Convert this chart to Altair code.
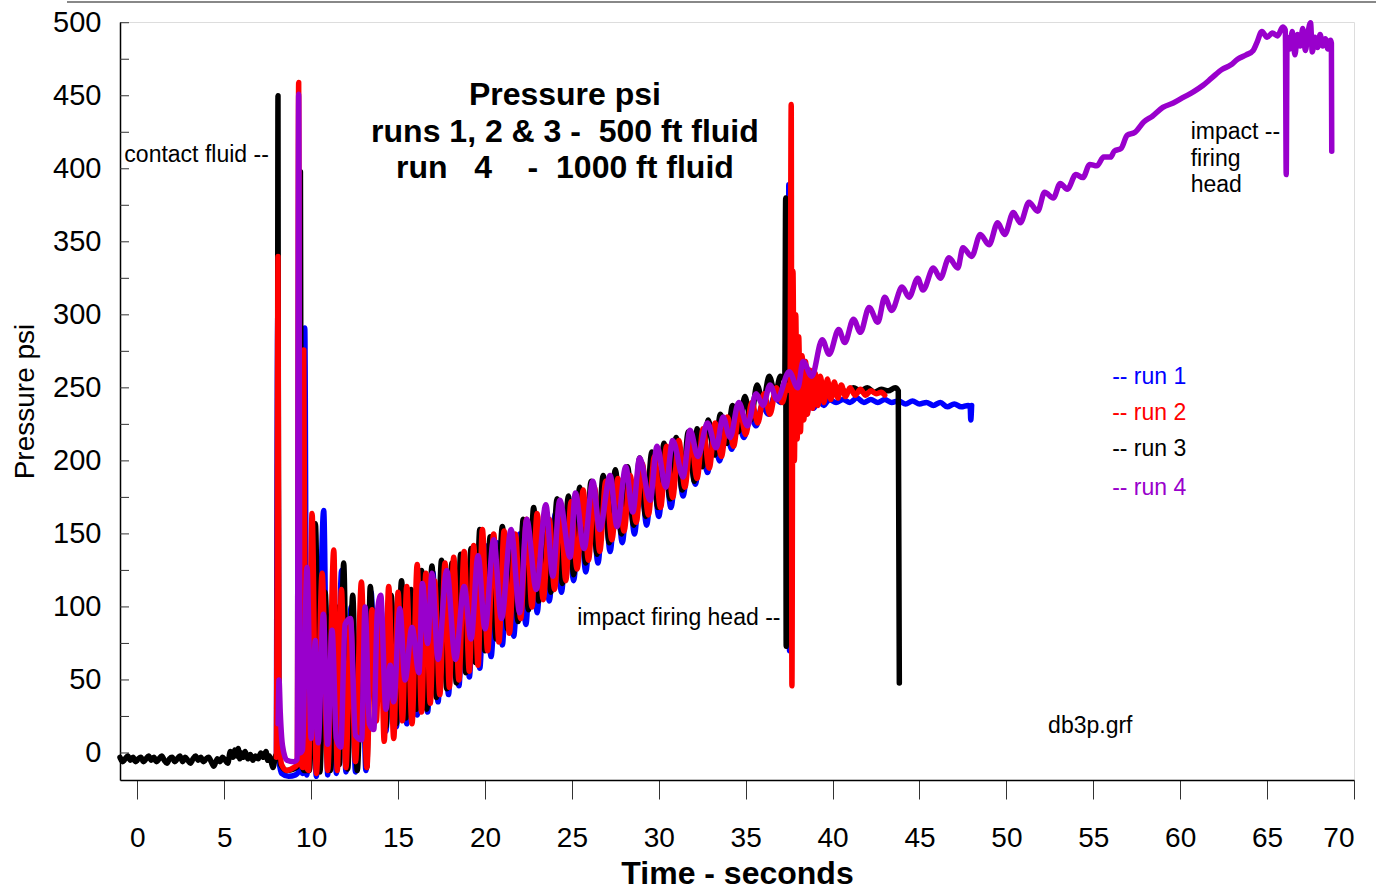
import altair as alt
import pandas as pd

# ---------------- data ----------------
# run 1 (blue)
run1_t = [8.0, 8.08, 8.15, 8.3, 8.7, 9.1, 9.3, 9.4, 9.5, 9.63, 9.75, 10.0, 10.3, 10.72, 10.95, 11.2, 11.45, 11.75,
          12.0, 12.3, 12.55, 12.9, 13.15, 13.45, 13.7, 14.0, 14.3, 14.6, 14.9, 15.2, 15.5, 15.8, 16.1, 16.4, 16.7,
          17.0, 17.3, 17.6, 17.9, 18.2, 18.5, 18.8, 19.1, 19.4, 19.7, 20.0, 20.35, 20.7, 21.0, 21.3, 21.65, 22.0,
          22.35, 22.7, 23.0, 23.35, 23.7, 24.05, 24.4, 24.75, 25.1, 25.45, 25.8, 26.15, 26.5, 26.85, 27.2, 27.55,
          27.9, 28.25, 28.6, 28.95, 29.3, 29.65, 30.0, 30.35, 30.7, 31.05, 31.4, 31.75, 32.1, 32.45, 32.8, 33.15,
          33.5, 33.85, 34.2, 34.55, 34.9, 35.25, 35.6, 35.95, 36.3, 36.65, 37.0, 37.3, 37.45, 37.48, 37.52, 37.56,
          37.65, 37.75, 37.85, 38.0, 38.15, 38.3, 38.5, 38.7, 38.9, 39.2, 39.5, 39.8, 40.2, 40.6, 41.0, 41.4, 41.8,
          42.2, 42.6, 43.0, 43.4, 43.8, 44.2, 44.6, 45.0, 45.4, 45.8, 46.2, 46.6, 47.0, 47.4, 47.8, 47.92, 47.95, 48.0]
run1_p = [-5, 300, -5, -14, -16, -15, -12, 200, -14, 291, -15, 100, -16, 166, -15, 95, -14, 125,
          -13, 100, -13, 105, -12, 110, 28, 96, 15, 104, 18, 112, 20, 108, 26, 120, 28,
          124, 35, 126, 40, 128, 46, 132, 52, 136, 58, 142, 66, 144, 74, 146, 80, 150,
          88, 156, 96, 158, 104, 164, 110, 168, 118, 172, 124, 176, 130, 180, 138, 184,
          144, 188, 150, 192, 156, 196, 162, 200, 168, 204, 176, 208, 184, 212, 192, 218,
          200, 222, 208, 228, 216, 232, 224, 238, 232, 244, 240, 248, 246, 389, 70, 240,
          210, 255, 222, 250, 228, 238, 232, 240, 236, 241, 238, 242, 240, 242, 240, 243, 240,
          242, 240, 242, 240, 241, 239, 241, 239, 240, 238, 240, 237, 239, 237, 238, 236, 228, 238]

# run 2 (red)
run2_t = [8.0, 8.05, 8.09, 8.15, 8.3, 8.6, 9.0, 9.2, 9.28, 9.38, 9.5, 9.57, 9.68, 9.85, 10.05, 10.3, 10.63, 10.95,
          11.3, 11.5, 11.74, 12.0, 12.26, 12.55, 12.89, 13.2, 13.5, 13.75, 13.98, 14.2, 14.46, 14.75, 15.0, 15.25,
          15.5, 15.8, 16.1, 16.35, 16.6, 16.85, 17.1, 17.4, 17.7, 17.95, 18.2, 18.5, 18.8, 19.1, 19.35, 19.6, 19.85,
          20.15, 20.5, 20.8, 21.1, 21.4, 21.75, 22.05, 22.4, 22.7, 23.0, 23.35, 23.7, 24.0, 24.35, 24.65, 24.95,
          25.3, 25.65, 25.95, 26.3, 26.6, 26.95, 27.3, 27.65, 28.0, 28.35, 28.7, 29.05, 29.4, 29.75, 30.1, 30.45,
          30.8, 31.15, 31.5, 31.85, 32.2, 32.55, 32.9, 33.25, 33.6, 33.95, 34.3, 34.65, 35.0, 35.35, 35.7, 36.05,
          36.4, 36.75, 37.1, 37.4, 37.55, 37.62, 37.66, 37.72, 37.8, 37.88, 37.96, 38.05, 38.15, 38.25, 38.35,
          38.45, 38.55, 38.7, 38.85, 39.0, 39.15, 39.3, 39.5, 39.7, 39.9, 40.1, 40.3, 40.5, 40.75, 41.0, 41.3,
          41.6, 41.9, 42.2, 42.5, 42.8, 43.0]
run2_p = [-3, 130, 340, 20, -8, -12, -10, -8, 459, -5, -10, 276, -8, -12, 164, -14, 123, -12,
          139, -12, 112, -10, 91, -6, 117, -10, 98, 22, 107, 8, 114, 10, 110, 22,
          114, 20, 129, 28, 123, 34, 118, 40, 130, 45, 134, 50, 138, 56, 142, 60, 153,
          70, 150, 76, 152, 82, 150, 92, 160, 100, 164, 105, 160, 112, 171, 118, 172,
          126, 180, 132, 182, 138, 186, 146, 188, 152, 190, 158, 198, 163, 203, 168, 210,
          175, 214, 182, 216, 188, 222, 195, 226, 203, 230, 210, 236, 218, 240, 226, 246,
          232, 250, 240, 252, 248, 444, 46, 330, 200, 300, 215, 285, 220, 272, 228,
          268, 232, 262, 236, 260, 238, 258, 240, 256, 242, 254, 243, 252, 244, 250, 245,
          249, 245, 248, 246, 247, 245]

# run 3 (black)
run3_t = [-1.0, -0.85, -0.7, -0.55, -0.4, -0.25, -0.1, 0.05, 0.2, 0.35, 0.5, 0.65, 0.8, 0.95, 1.1, 1.25, 1.4,
          1.55, 1.7, 1.85, 2.0, 2.15, 2.3, 2.45, 2.6, 2.75, 2.9, 3.05, 3.2, 3.35, 3.5, 3.65, 3.8, 3.95, 4.1, 4.25,
          4.4, 4.6, 4.75, 4.9, 5.05, 5.2, 5.35, 5.5, 5.6, 5.7, 5.8, 5.9, 6.0, 6.1, 6.2, 6.35, 6.5, 6.65, 6.8, 6.95,
          7.1, 7.25, 7.4, 7.5, 7.6, 7.7, 7.8, 7.95, 8.05, 8.09, 8.13, 8.25, 8.6, 9.0,
          9.3, 9.38, 9.45, 9.6, 9.9, 10.24, 10.5, 10.8, 11.1, 11.45, 11.62, 11.87, 12.1, 12.39, 12.65, 12.95, 13.2,
          13.4, 13.7, 14.0, 14.3, 14.6, 14.9, 15.2, 15.45, 15.75, 16.05, 16.35, 16.65, 16.95, 17.2, 17.5, 17.8,
          18.1, 18.35, 18.6, 18.9, 19.2, 19.45, 19.7, 20.0, 20.3, 20.65, 21.0, 21.3, 21.6, 21.9, 22.2, 22.5, 22.8,
          23.1, 23.45, 23.8, 24.15, 24.45, 24.8, 25.1, 25.45, 25.8, 26.1, 26.45, 26.8, 27.15, 27.5, 27.85, 28.2,
          28.55, 28.9, 29.25, 29.6, 29.95, 30.3, 30.65, 31.0, 31.35, 31.7, 32.05, 32.2, 32.5, 32.85, 33.2, 33.55,
          33.9, 34.25, 34.6, 34.95, 35.3, 35.65, 36.0, 36.35, 36.7, 37.0, 37.25, 37.3, 37.33, 37.38, 37.5, 37.6,
          37.7, 37.85, 37.95, 38.0, 38.1, 38.2, 38.35, 38.5, 38.7, 38.9, 39.1, 39.4, 39.7, 40.0, 40.4, 40.8, 41.2,
          41.6, 42.0, 42.4, 42.8, 43.2, 43.6, 43.78, 43.84]
run3_p = [-3, -6, -4, -2, -5, -3, -6, -4, -3, -6, -4, -2, -5, -3, -6, -4, -2, -5, -7, -4, -3, -6, -4, -2, -6,
          -3, -5, -7, -4, -2, -5, -3, -6, -4, -3, -6, -9, -4, -6, -3, -5, -7, 1, -3, 2, -2, 3, -4, 0, -3, 1, -4,
          -1, -5, -2, -4, 0, -3, 1, -5, -2, -6, -10, -2, 0, 450, 10, -8, -12, -11,
          -8, 398, -5, -12, -12, 157, -13, 110, -12, 100, -8, 130, -11, 108, -12, 95, -10,
          114, 30, 100, 18, 108, 20, 118, 24, 112, 30, 125, 30, 128, 38, 132, 44,
          130, 48, 136, 55, 140, 62, 153, 70, 148, 78, 155, 85, 150, 90, 160, 98, 168,
          104, 165, 110, 174, 116, 176, 122, 182, 130, 186, 136, 190, 144, 194, 150, 196,
          156, 202, 162, 206, 168, 212, 174, 216, 180, 220, 186, 222, 196, 228, 204, 232,
          212, 238, 220, 244, 228, 252, 240, 258, 246, 258, 256, 380, 73, 250, 240, 262,
          235, 270, 283, 230, 258, 240, 256, 243, 253, 245, 252, 246, 251, 247, 250, 247, 250,
          248, 250, 247, 249, 248, 250, 248, 48]

# run 4 (purple)
run4_t = [8.1, 8.15, 8.22, 8.35, 8.6, 9.0, 9.2, 9.28, 9.36, 9.5, 9.76, 10.0, 10.24, 10.4, 10.7, 10.95, 11.2, 11.45,
          11.7, 11.95, 12.26, 12.55, 12.9, 13.1, 13.35, 13.6, 13.8, 14.0, 14.3, 14.55, 14.75, 15.1, 15.4, 15.8,
          16.2, 16.4, 16.7, 16.95, 17.3, 17.8, 18.3, 18.8, 19.2, 19.6, 20.0, 20.5, 20.95, 21.5, 22.0, 22.4, 22.95,
          23.5, 23.9, 24.3, 24.9, 25.2, 25.7, 26.2, 26.6, 27.2, 27.6, 28.1, 28.5, 28.9, 29.5, 29.9, 30.4, 30.8,
          31.4, 31.8, 32.25, 32.8, 33.3, 33.7, 34.1, 34.6, 35.1, 35.6, 36.0, 36.4, 36.8, 37.5, 38.0, 38.3, 38.8,
          39.4, 39.8, 40.35, 40.7, 41.2, 41.6, 42.1, 42.6, 43.0, 43.4, 44.0, 44.4, 44.9, 45.2, 45.8, 46.2, 46.7,
          47.2, 47.5, 48.0, 48.5, 49.0, 49.5, 49.9, 50.4, 50.8, 51.3, 51.8, 52.2, 52.7, 53.1, 53.5, 54.0, 54.4,
          54.8, 55.2, 55.6, 56.0, 56.2, 56.6, 56.95, 57.4, 57.9, 58.4, 59.0, 59.6, 60.2, 60.8, 61.3, 61.8, 62.4,
          62.9, 63.3, 63.8, 64.2, 64.4, 64.7, 65.0, 65.3, 65.6, 65.9, 66.05, 66.1, 66.15, 66.3, 66.45, 66.6,
          66.75, 66.9, 67.05, 67.2, 67.35, 67.5, 67.6, 67.75, 67.9, 68.05, 68.2, 68.35, 68.5, 68.65, 68.7, 68.72]
run4_p = [20, 50, 28, 5, -5, -6, -4, 451, 0, 2, 127, 10, 77, 7, 95, 6, 84, 10,
          4, 88, 92, 12, 9, 100, 20, 16, 95, 108, 30, 60, 35, 99, 50, 86,
          55, 116, 75, 123, 64, 125, 64, 114, 78, 135, 85, 146, 92, 153, 96, 160, 112,
          170, 121, 173, 134, 178, 140, 186, 153, 190, 155, 196, 165, 202, 173, 210, 182, 214,
          189, 221, 203, 226, 209, 230, 216, 240, 224, 246, 238, 252, 242, 261, 250, 268, 258,
          283, 273, 290, 281, 297, 288, 305, 295, 312, 303, 319, 312, 325, 317, 332, 325, 339,
          332, 346, 340, 355, 348, 363, 355, 370, 363, 377, 371, 384, 380, 390, 386, 396, 394,
          403, 402, 408, 408, 412, 414, 423, 425, 432, 436, 442, 445, 449, 453, 457, 462, 468,
          471, 475, 478, 481, 486, 494, 490, 493, 491, 497, 495, 396, 490, 482, 494, 478,
          492, 484, 496, 481, 493, 500, 480, 490, 483, 492, 484, 489, 482, 488, 486, 412]

y_tick_labels = [0, 50, 100, 150, 200, 250, 300, 350, 400, 450, 500]
y_minor_ticks = list(range(0, 501, 25))
x_tick_labels = list(range(0, 71, 5))

# annotations (text, time, pressure)
title_lines = ["Pressure psi",
               "runs 1, 2 & 3 -\u00a0\u00a0500 ft fluid",
               "run\u00a0\u00a0\u00a04\u00a0\u00a0\u00a0\u00a0-\u00a0\u00a01000 ft fluid"]
title_t = [24.6, 24.6, 24.6]
title_p = [450.5, 425.3, 400.5]

note_left_text = ["contact fluid --", "impact --", "firing", "head", "db3p.grf"]
note_left_t = [-0.75, 60.6, 60.6, 60.6, 52.4]
note_left_p = [409.6, 425.0, 406.8, 389.0, 18.5]

note_right_text = ["impact firing head --"]
note_right_t = [37.0]
note_right_p = [92.5]

legend_text = ["-- run 1", "-- run 2", "-- run 3", "-- run 4"]
legend_colors = ["#0000ff", "#ff0000", "#000000", "#9900cc"]
legend_t = [60.35, 60.35, 60.35, 60.35]
legend_p = [257.5, 233.0, 208.2, 181.5]

FONT = "Liberation Sans"
X_DOMAIN = [-1, 70]
Y_DOMAIN = [-18.5, 500.5]

xs = alt.Scale(domain=X_DOMAIN, nice=False, zero=False)
ys = alt.Scale(domain=Y_DOMAIN, nice=False, zero=False)

x_axis = alt.Axis(values=x_tick_labels, tickSize=19, tickColor="#333", labelFontSize=28, labelPadding=25,
                  labelFont=FONT, title="Time - seconds", titleFont=FONT, titleFontSize=32,
                  titleFontWeight="bold", titlePadding=6, grid=False, domainColor="#000", domainWidth=1.5,
                  labelColor="#000", titleColor="#000")
y_axis = alt.Axis(values=y_tick_labels, ticks=False, tickSize=0, labelFontSize=29, labelPadding=19,
                  labelFont=FONT, title="Pressure psi", titleFont=FONT, titleFontSize=28,
                  titleFontWeight="normal", titlePadding=13, grid=False, domainColor="#000",
                  domainWidth=1.5, labelColor="#000", titleColor="#000")


def series(t, p, color):
    df = pd.DataFrame({"t": t, "p": p})
    return alt.Chart(df).mark_line(color=color, strokeWidth=5.5, interpolate="monotone",
                                   strokeJoin="round", strokeCap="round").encode(
        x=alt.X("t:Q", scale=xs, axis=x_axis),
        y=alt.Y("p:Q", scale=ys, axis=y_axis),
        order="t:Q",
    )


ticks = alt.Chart(pd.DataFrame({"v": y_minor_ticks})).mark_rule(color="#333", strokeWidth=1).encode(
    y=alt.Y("v:Q", scale=ys, axis=y_axis), x=alt.value(0), x2=alt.value(9))

blue = series(run1_t, run1_p, "#0000ff")
black = series(run3_t, run3_p, "#000000")
red = series(run2_t, run2_p, "#ff0000")
purple = series(run4_t, run4_p, "#9900cc")

titles = alt.Chart(pd.DataFrame({"s": title_lines, "t": title_t, "p": title_p})).mark_text(
    font=FONT, fontSize=32, fontWeight="bold", align="center", baseline="middle", color="#000").encode(
    x=alt.X("t:Q", scale=xs), y=alt.Y("p:Q", scale=ys), text="s:N")

notes_l = alt.Chart(pd.DataFrame({"s": note_left_text, "t": note_left_t, "p": note_left_p})).mark_text(
    font=FONT, fontSize=23, align="left", baseline="middle", color="#000").encode(
    x=alt.X("t:Q", scale=xs), y=alt.Y("p:Q", scale=ys), text="s:N")

notes_r = alt.Chart(pd.DataFrame({"s": note_right_text, "t": note_right_t, "p": note_right_p})).mark_text(
    font=FONT, fontSize=23, align="right", baseline="middle", color="#000").encode(
    x=alt.X("t:Q", scale=xs), y=alt.Y("p:Q", scale=ys), text="s:N")

legend = alt.Chart(pd.DataFrame({"s": legend_text, "t": legend_t, "p": legend_p, "c": legend_colors})).mark_text(
    font=FONT, fontSize=23, align="right", baseline="middle").encode(
    x=alt.X("t:Q", scale=xs), y=alt.Y("p:Q", scale=ys), text="s:N",
    color=alt.Color("c:N", scale=None))

top_line = alt.Chart(pd.DataFrame({"a": [0]})).mark_rule(color="#888", strokeWidth=2).encode(
    x=alt.value(-53), x2=alt.value(1256), y=alt.value(-20))

chart = alt.layer(ticks, blue, black, red, purple, titles, notes_l, notes_r, legend, top_line).properties(
    width=1234, height=758,
    autosize=alt.AutoSizeParams(type="none"),
    padding={"left": 120, "top": 22, "right": 22, "bottom": 111},
).configure_view(stroke="#444", strokeWidth=1).configure(background="white")

chart.save("out.html", embed_options={"renderer": "svg", "actions": False})
